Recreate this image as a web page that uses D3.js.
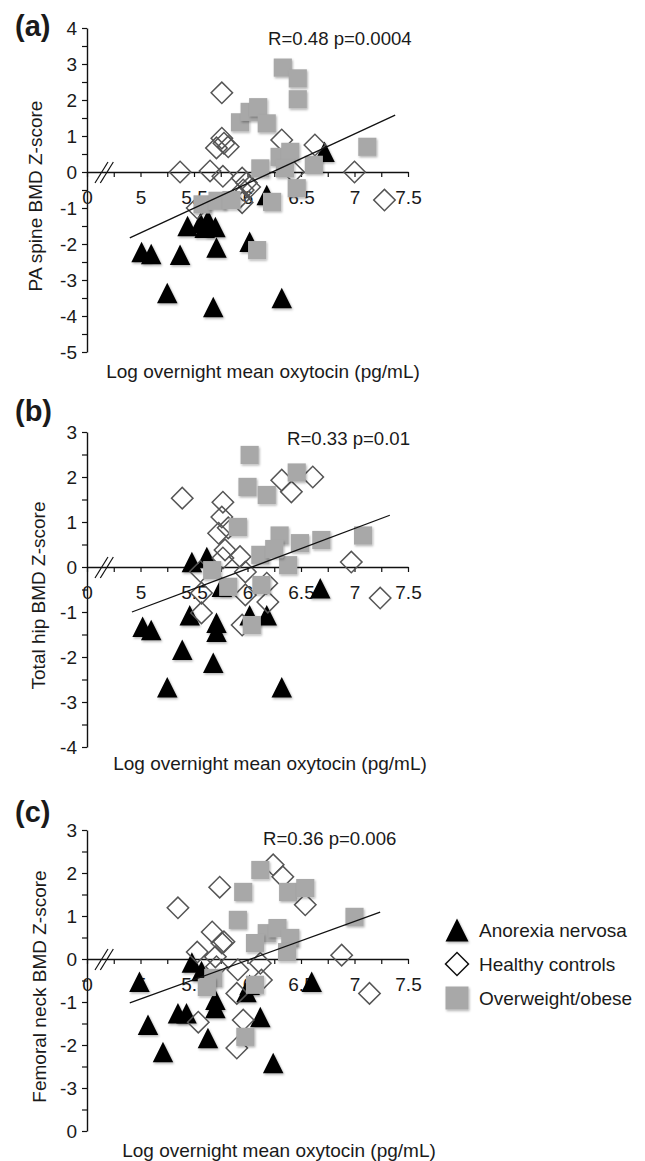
<!DOCTYPE html>
<html>
<head>
<meta charset="utf-8">
<script src="https://cdn.jsdelivr.net/npm/d3@7"></script>
<style>
  body { margin: 0; background: #fff; }
  svg text { font-family: "Liberation Sans", Arial, sans-serif; fill: #1a1a1a; }
</style>
</head>
<body>
<div id="container"></div>
<script>
/* DATA : [log oxytocin, Z-score] */
const groups = ["Anorexia nervosa", "Healthy controls", "Overweight/obese"]

// (a) PA spine
const anorexiaA = [[5.01,-2.22],[5.10,-2.28],[5.37,-2.3],[5.25,-3.36],[5.44,-1.5],[5.56,-1.42],[5.63,-1.33],
  [5.70,-1.53],[5.60,-1.55],[5.71,-2.1],[5.68,-3.75],[6.02,-1.94],[6.18,-0.64],[6.32,-3.5],[6.72,0.56]]
const healthyA = [[5.76,2.2],[5.76,0.94],[5.71,0.67],[5.82,0.7],[5.78,0.8],[6.32,0.89],[6.63,0.75],[5.37,0.0],
  [5.65,0.03],[5.77,-0.12],[5.95,-0.17],[5.99,-0.3],[5.96,-0.5],[6.02,-0.42],[5.93,-0.7],[5.95,-0.85],
  [6.43,0.0],[7.0,0.0],[7.28,-0.78],[5.53,-1.0]]
const obeseA = [[6.33,2.9],[6.47,2.6],[6.47,2.02],[5.93,1.38],[6.02,1.67],[6.1,1.8],[6.18,1.35],[6.12,0.1],
  [6.3,0.42],[6.4,0.56],[6.35,0.1],[6.62,0.2],[7.12,0.7],[6.46,-0.45],[6.23,-0.83],[5.58,-0.9],[5.72,-0.8],
  [5.85,-0.78],[6.09,-2.17]]
const fitA = [[4.9,-1.83],[7.38,1.58]]

// (b) total hip
const anorexiaB = [[5.48,0.11],[5.62,0.22],[6.68,-0.47],[5.02,-1.33],[5.1,-1.4],[5.46,-1.07],[5.39,-1.84],
  [5.25,-2.67],[5.71,-1.24],[5.71,-1.44],[5.68,-2.13],[6.02,-1.07],[6.18,-1.07],[6.32,-2.67],[5.76,-0.44]]
const healthyB = [[5.39,1.53],[5.77,1.44],[5.76,1.11],[5.73,0.75],[5.82,0.87],[5.79,0.38],[5.77,0.2],[5.93,0.23],
  [6.32,1.93],[6.41,1.67],[6.61,2.0],[6.97,0.11],[7.24,-0.69],[5.98,-0.11],[5.57,-0.58],[5.57,-1.02],
  [5.98,-0.62],[6.19,-0.78],[6.18,-0.36],[5.95,-1.29],[5.56,-0.1]]
const obeseB = [[6.02,2.49],[6.0,1.78],[6.18,1.6],[6.46,2.1],[5.91,0.89],[6.12,0.27],[6.3,0.7],[6.38,0.04],
  [6.49,0.53],[6.69,0.6],[7.08,0.7],[5.67,-0.07],[5.82,-0.44],[6.13,-0.4],[6.04,-1.29],[6.25,0.4]]
const fitB = [[4.92,-1.0],[7.33,1.15]]

// (c) femoral neck
const anorexiaC = [[4.99,-0.53],[5.07,-1.53],[5.21,-2.16],[5.35,-1.26],[5.43,-1.26],[5.48,-0.08],[5.57,-0.28],
  [5.63,-1.84],[5.70,-0.95],[5.70,-1.14],[5.99,-0.77],[6.12,-1.35],[6.24,-2.42],[6.6,-0.53],[6.02,-0.6]]
const healthyC = [[5.35,1.19],[5.74,1.67],[6.24,2.19],[6.33,1.91],[6.54,1.26],[5.67,0.63],[5.76,0.37],[5.53,0.16],
  [5.7,0.05],[6.88,0.09],[6.12,-0.1],[5.91,-0.25],[7.14,-0.8],[5.54,-1.47],[5.96,-1.42],[5.9,-2.07],
  [6.13,-0.49],[5.9,-0.8],[5.71,-0.18],[5.78,0.4]]
const obeseC = [[6.12,2.07],[5.96,1.56],[6.38,1.56],[6.54,1.65],[5.91,0.91],[6.18,0.6],[6.28,0.72],[6.4,0.49],
  [6.07,0.37],[6.37,0.16],[7.0,0.98],[5.68,-0.44],[5.62,-0.65],[6.07,-0.6],[5.98,-1.81]]
const fitC = [[4.9,-1.02],[7.24,1.09]]

const panelLetters = ["(a)", "(b)", "(c)"]
const yTitles = ["PA spine BMD Z-score", "Total hip BMD Z-score", "Femoral neck BMD Z-score"]
const stats = ["R=0.48 p=0.0004", "R=0.33 p=0.01", "R=0.36 p=0.006"]
const xTitle = "Log overnight mean oxytocin (pg/mL)"
const yDomains = [[-5, 4], [-4, 3], [-4, 3]]
// the bottom tick of (c) is printed as "0" in the original
const yBottomLabels = ["-5", "-4", "0"]
const xTickLabels = {4.5: "0", 5: "5", 5.5: "5.5", 6: "6", 6.5: "6.5", 7: "7", 7.5: "7.5"}

/* LAYOUT */
const width = 645, height = 1161
const panels = [
  { an: anorexiaA, hc: healthyA, ob: obeseA, fit: fitA, top: 28, bottom: 352, letterY: 36, statX: 268, statY: 45, titleX: 263, titleY: 378, yTitleX: 42 },
  { an: anorexiaB, hc: healthyB, ob: obeseB, fit: fitB, top: 432, bottom: 747, letterY: 421, statX: 287, statY: 445, titleX: 270, titleY: 770, yTitleX: 45 },
  { an: anorexiaC, hc: healthyC, ob: obeseC, fit: fitC, top: 830, bottom: 1131, letterY: 822, statX: 263, statY: 845, titleX: 279, titleY: 1157, yTitleX: 46 }
]

const triangle = {
  draw(ctx, size) {
    const s = Math.sqrt(size)
    ctx.moveTo(0, -s / 2)
    ctx.lineTo(s / 2, s / 2)
    ctx.lineTo(-s / 2, s / 2)
    ctx.closePath()
  }
}
const triPath = d3.symbol(triangle, 420)()
const sqPath = d3.symbol(d3.symbolSquare, 330)()
const diaPath = d3.symbol(d3.symbolSquare, 230)()

const svg = d3.select('#container')
  .append('svg')
  .attr('width', width)
  .attr('height', height)

const defs = svg.append('defs')
defs.append('filter').attr('id', 'shadow')
  .attr('x', '-30%').attr('y', '-30%').attr('width', '160%').attr('height', '160%')
  .append('feDropShadow')
  .attr('dx', 1).attr('dy', 1.5).attr('stdDeviation', 1.2)
  .attr('flood-color', '#000').attr('flood-opacity', 0.3)

const xScale = d3.scaleLinear().domain([4.5, 7.5]).range([87, 408])

panels.forEach((p, i) => {
  const g = svg.append('g')
  const yScale = d3.scaleLinear().domain(yDomains[i]).range([p.bottom, p.top])
  const y0 = yScale(0)

  // y axis
  const yAxis = d3.axisLeft(yScale)
    .tickValues(d3.range(yDomains[i][0], yDomains[i][1] + 0.01, 0.5))
    .tickFormat(d => Number.isInteger(d) ? (d === yDomains[i][0] ? yBottomLabels[i] : String(d)) : '')
    .tickSize(5)
    .tickSizeOuter(0)
  const yg = g.append('g').attr('transform', `translate(87,0)`).call(yAxis)
  yg.select('.domain').attr('stroke', '#111').attr('stroke-width', 1.4)
  yg.selectAll('.tick line').attr('stroke', '#111').attr('stroke-width', 1.2)
  yg.selectAll('.tick text').attr('x', -10).attr('font-size', 19)
    .style('font-family', '"Liberation Sans", Arial, sans-serif').attr('fill', '#1a1a1a')

  // x axis through zero
  const xAxis = d3.axisBottom(xScale)
    .tickValues(d3.range(4.5, 7.51, 0.25))
    .tickFormat(d => xTickLabels[d] || '')
    .tickSize(5)
    .tickSizeOuter(0)
  const xg = g.append('g').attr('transform', `translate(0,${y0})`).call(xAxis)
  xg.select('.domain').attr('stroke', '#111').attr('stroke-width', 1.4)
  xg.selectAll('.tick line').attr('stroke', '#111').attr('stroke-width', 1.2)
  xg.selectAll('.tick text').attr('y', 32).attr('dy', 0).attr('font-size', 19)
    .style('font-family', '"Liberation Sans", Arial, sans-serif').attr('fill', '#1a1a1a')

  // axis break mark
  g.selectAll('line.brk')
    .data([4.64, 4.69])
    .join('line')
    .attr('class', 'brk')
    .attr('x1', d => xScale(d) - 7).attr('y1', y0 + 11)
    .attr('x2', d => xScale(d) + 6).attr('y2', y0 - 10)
    .attr('stroke', '#111').attr('stroke-width', 1.2)

  // markers: triangles, diamonds, squares
  g.append('g').selectAll('path')
    .data(p.an).join('path')
    .attr('d', triPath)
    .attr('transform', d => `translate(${xScale(d[0])},${yScale(d[1])})`)
    .attr('fill', '#000')
    .attr('filter', 'url(#shadow)')

  g.append('g').selectAll('path')
    .data(p.hc).join('path')
    .attr('d', diaPath)
    .attr('transform', d => `translate(${xScale(d[0])},${yScale(d[1])}) rotate(45)`)
    .attr('fill', 'none')
    .attr('stroke', '#555')
    .attr('stroke-width', 1.5)

  g.append('g').selectAll('path')
    .data(p.ob).join('path')
    .attr('d', sqPath)
    .attr('transform', d => `translate(${xScale(d[0])},${yScale(d[1])})`)
    .attr('fill', '#a8a8a8')
    .attr('filter', 'url(#shadow)')

  // regression line
  const line = d3.line().x(d => xScale(d[0])).y(d => yScale(d[1]))
  g.append('path')
    .datum(p.fit)
    .attr('d', line)
    .attr('fill', 'none')
    .attr('stroke', '#111')
    .attr('stroke-width', 1.3)

  // texts
  g.append('text').attr('x', 15).attr('y', p.letterY)
    .attr('font-size', 29).attr('font-weight', 'bold').text(panelLetters[i])
  g.append('text').attr('x', p.statX).attr('y', p.statY)
    .attr('font-size', 18.6).text(stats[i])
  g.append('text').attr('x', p.titleX).attr('y', p.titleY)
    .attr('text-anchor', 'middle').attr('font-size', 19).text(xTitle)
  g.append('text')
    .attr('transform', `translate(${p.yTitleX},${(p.top + p.bottom) / 2 + 6}) rotate(-90)`)
    .attr('text-anchor', 'middle').attr('font-size', 19).text(yTitles[i])
})

/* LEGEND */
const legendShapes = [
  { d: d3.symbol(triangle, 529)(), fill: '#000', stroke: 'none', rot: 0 },
  { d: d3.symbol(d3.symbolSquare, 265)(), fill: 'none', stroke: '#111', rot: 45 },
  { d: d3.symbol(d3.symbolSquare, 529)(), fill: '#a8a8a8', stroke: 'none', rot: 0 }
]
const legend = svg.append('g').attr('transform', 'translate(457,930)')
const items = legend.selectAll('g').data(groups).join('g')
  .attr('transform', (d, i) => `translate(0,${i * 34})`)
items.append('path')
  .attr('d', (d, i) => legendShapes[i].d)
  .attr('transform', (d, i) => `rotate(${legendShapes[i].rot})`)
  .attr('fill', (d, i) => legendShapes[i].fill)
  .attr('stroke', (d, i) => legendShapes[i].stroke)
  .attr('stroke-width', 1.5)
  .attr('filter', (d, i) => i === 1 ? null : 'url(#shadow)')
items.append('text')
  .attr('x', 22).attr('y', 7)
  .attr('font-size', 19)
  .text(d => d)
</script>
</body>
</html>
